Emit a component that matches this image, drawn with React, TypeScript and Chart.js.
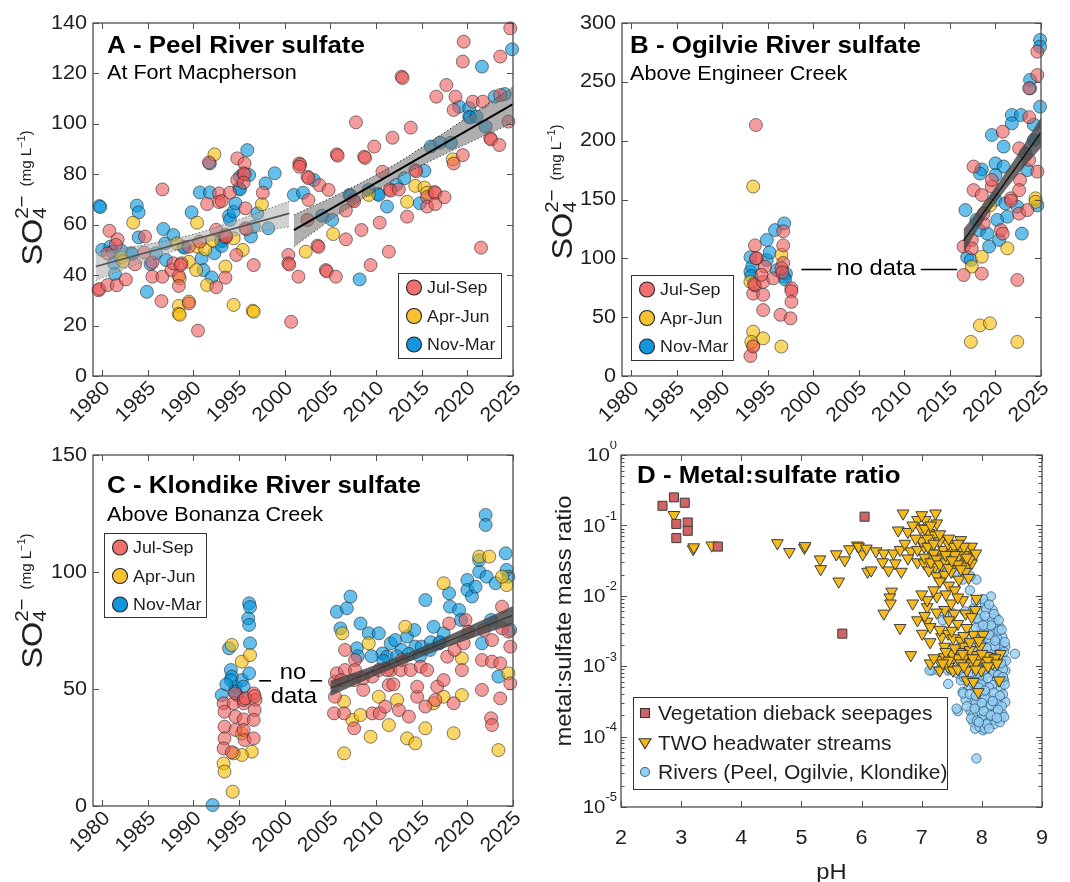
import React, { useEffect, useRef } from 'react';
import { Chart, registerables } from 'chart.js';

Chart.register(...registerables);

type Pair = [number, number];

const FONT = '"Liberation Sans", Arial, Helvetica, sans-serif';
const INK = '#1f1f1f';
const AXIS = '#4d4d4d';
const SX = 1.08;

// ---------- axes / labels ----------
const yearTicks = [1980, 1985, 1990, 1995, 2000, 2005, 2010, 2015, 2020, 2025];
const peelTicks = [0, 20, 40, 60, 80, 100, 120, 140];
const ogilvieTicks = [0, 50, 100, 150, 200, 250, 300];
const klondikeTicks = [0, 50, 100, 150];
const phTicks = [2, 3, 4, 5, 6, 7, 8, 9];
const ratioTicks = [1, 1e-1, 1e-2, 1e-3, 1e-4, 1e-5];
const ratioTickExponents = ['0', '-1', '-2', '-3', '-4', '-5'];

const seasonLabels = ['Jul-Sep', 'Apr-Jun', 'Nov-Mar'];
const groupLabels = ['Vegetation dieback seepages', 'TWO headwater streams', 'Rivers (Peel, Ogilvie, Klondike)'];

// ---------- A: Peel River (year, SO4 mg/L) ----------
const peelJulSep: Pair[] = [
  [1979.6, 34], [1979.7, 34.5], [1980.6, 36.1], [1980.8, 57.6], [1981.6, 36], [1981.7, 54.2], [1981.5, 52], [1982.6, 38.3],
  [1983.6, 44.3], [1980.6, 48.6], [1984.7, 55.3], [1984.6, 49], [1985.5, 45], [1985.5, 39.4], [1986.6, 74], [1986.6, 39.4],
  [1986.5, 29.7], [1987.6, 42], [1987.8, 44.7], [1988.4, 39.7], [1988.4, 35.7], [1988.7, 44.7], [1988.6, 44], [1989.5, 28.8],
  [1989.5, 51.3], [1990.5, 18], [1990.7, 53.3], [1991.5, 68.2], [1991.7, 84.7], [1992.5, 35.2], [1992.8, 72.4], [1992.8, 69],
  [1992.5, 58], [1993.5, 39], [1993.5, 56], [1993.5, 55], [1993.6, 55.4], [1993.1, 69.4], [1994, 72.7], [1994.7, 48],
  [1994.8, 86.3], [1994.8, 77.7], [1995.6, 84.3], [1995.5, 80.4], [1995.6, 80], [1995.5, 76.7], [1995.7, 66.5], [1996.6, 44],
  [1995.7, 58.6], [1995.8, 58.2], [1997.6, 72.7], [2000.4, 48], [2000.4, 44.7], [2000.5, 44.2], [2000.7, 21.5], [2001.6, 84.3],
  [2001.7, 83.8], [2001.6, 83], [2001.5, 39.4], [2002.5, 79], [2002.6, 78.5], [2002.6, 69.8], [2002.5, 61.9], [2003.6, 51.7],
  [2003.7, 51.2], [2003.8, 75.7], [2004.8, 73.8], [2004.5, 42], [2004.6, 41.5], [2005.6, 39.4], [2005.7, 87.9], [2005.8, 87.4],
  [2006.7, 54.2], [2006.7, 65.6], [2007.5, 69.8], [2007.6, 69.3], [2007.8, 100.6], [2008.4, 57.9], [2008.7, 87], [2008.8, 86.5],
  [2009.4, 44], [2009.8, 91], [2010.4, 60.8], [2010.7, 81], [2011.4, 49.3], [2011.8, 94.5], [2011.5, 74], [2011.6, 73.5],
  [2012.5, 74], [2012.8, 118.7], [2012.9, 118.2], [2013.4, 63.2], [2013.8, 98.5], [2014.3, 81.7], [2014.4, 81.2], [2015.6, 71],
  [2015.6, 67.2], [2016.4, 73], [2016.5, 72.5], [2016.5, 68.2], [2016.6, 110.8], [2017.5, 70.9], [2017.7, 115.4], [2018.5, 105.5],
  [2018.7, 110.8], [2018.5, 84.3], [2019.5, 87.6], [2019.5, 124.7], [2019.6, 132.6], [2020.6, 108.8], [2021.5, 50.9], [2021.7, 108.8],
  [2022.5, 94.3], [2022.6, 93.8], [2023.5, 91.6], [2023.6, 126.7], [2023.6, 111.4], [2024.5, 100.9], [2024.7, 137.9],
];
const peelAprJun: Pair[] = [
  [1982.1, 47], [1982.3, 45.5], [1983.4, 60.8], [1988.2, 52.6], [1988.5, 38.7], [1988.4, 27.8], [1988.4, 24.7], [1988.5, 24.3],
  [1989.5, 45.3], [1989.5, 29.5], [1990.4, 60.8], [1990.4, 51.3], [1990.3, 42], [1991.3, 50.2], [1991.5, 36.1], [1992.3, 87.9],
  [1992.1, 53.7], [1993.5, 43.4], [1994.4, 28.2], [1994.4, 54.6], [1995.4, 50], [1996.5, 25.9], [1996.6, 25.5], [1997.5, 68.1],
  [2005.3, 56.3], [2002.3, 49.3], [2009.2, 71.8], [2013.4, 69.1], [2014.3, 75.4], [2015.3, 74.7], [2015.6, 72.7], [2018.4, 85.9],
];
const peelNovMar: Pair[] = [
  [1979.7, 67.4], [1979.8, 67], [1980, 50], [1980.9, 51.3], [1981.1, 49.3], [1981.3, 44.7], [1981.4, 40.5], [1982.1, 49.7],
  [1983.2, 48.7], [1983.3, 48.3], [1983.8, 67.6], [1984, 64.9], [1984, 55], [1984.9, 33.4], [1985.3, 44.4], [1985.9, 48.7],
  [1986.7, 58.3], [1986.9, 52.6], [1987.8, 55.9], [1987, 46], [1988.9, 51.3], [1989, 50.9], [1989.8, 64.9], [1990.7, 72.8],
  [1990.9, 46.7], [1991.1, 42], [1991.8, 72.8], [1991.8, 84.3], [1992, 39.1], [1992.3, 48.7], [1993, 53.9], [1993.1, 53.4],
  [1993.1, 51.6], [1993.9, 63.5], [1994, 61.9], [1994.4, 65.2], [1994.6, 68.5], [1995, 74.4], [1995.1, 74], [1995.1, 79.1],
  [1995.9, 89.6], [1996.1, 79.7], [1996.3, 55.3], [1996.6, 59.2], [1997, 64.5], [1997.9, 76.4], [1998.2, 58.6], [1998.9, 80.4],
  [2001, 71.8], [2002, 72.7], [2003.2, 77.7], [2004.1, 63.6], [2005.2, 61.9], [2007.1, 71.8], [2007.2, 71.4], [2008.2, 38.3],
  [2009.2, 73.8], [2010.2, 72.2], [2010.3, 71.8], [2011.2, 67.2], [2012.2, 75.8], [2013.1, 78.4], [2014.8, 68.5], [2015.3, 81.4],
  [2016, 91], [2017, 92.5], [2018.2, 92.5], [2019.1, 106.8], [2020.2, 106.2], [2020.2, 102.9], [2020.3, 102.5], [2021, 102.9],
  [2021.6, 122.7], [2022, 98.9], [2023, 110.8], [2024.1, 111.8], [2024.9, 129.6],
];
const peelFitEarlyYears = [1979.3, 1984, 1990, 1995, 2000.5];
const peelFitEarlyUpper = [48.9, 51.6, 56.2, 62.1, 69.3];
const peelFitEarlyLower = [37.9, 44.6, 51.9, 55.9, 59.2];
const peelFitEarlyLine: Pair[] = [[1979.3, 43.4], [2000.5, 64.5]];
const peelFitLateYears = [2001, 2006, 2012, 2018, 2025];
const peelFitLateUpper = [63.9, 72.3, 83.8, 97.8, 114.6];
const peelFitLateLower = [51.3, 64.3, 77.8, 88.8, 100.5];
const peelFitLateLine: Pair[] = [[2001, 57.9], [2025, 107.8]];

// ---------- B: Ogilvie River ----------
const ogilvieJulSep: Pair[] = [
  [1993.7, 213.3], [1993.1, 17], [1993.4, 25], [1993.4, 70], [1993.6, 77], [1993.8, 100], [1993.5, 78], [1994.5, 69],
  [1994.5, 56], [1994.7, 93], [1994.5, 80], [1995.6, 83], [1996.4, 52], [1996.7, 111], [1996.7, 123], [1996.7, 96],
  [1996.5, 91.5], [1997.6, 74.5], [1997.6, 72], [1997.6, 63], [1997.5, 49], [1993.6, 111], [1993.7, 100], [1996.6, 88], [1994.3, 86],
  [2016.5, 85.8], [2016.5, 110], [2017.4, 115.6], [2017.4, 108.5], [2017.6, 158], [2017.6, 178], [2018.5, 153.8], [2018.5, 87],
  [2018.7, 129.7], [2018.7, 138], [2019.6, 161], [2019.6, 166.6], [2020.6, 124], [2020.8, 207.6], [2021.7, 151], [2021.7, 149],
  [2022.4, 81.6], [2022.6, 193.5], [2022.7, 166.6], [2022.6, 158], [2022.6, 138], [2023.5, 141], [2023.7, 183.6], [2023.7, 220],
  [2023.7, 244.5], [2024.6, 173.7], [2024.6, 255.8], [2024.6, 275.6], [2020.8, 121],
];
const ogilvieAprJun: Pair[] = [
  [1993.4, 161], [1993.4, 37.7], [1993.4, 26], [1993.2, 29], [1994.5, 32], [1996.5, 25], [1993.1, 80], [1996.5, 103],
  [2017.3, 29], [2018.3, 43], [2019.4, 44.8], [2022.4, 29], [2017.4, 93], [2018.5, 101.4], [2019.4, 145], [2021.3, 108.5],
  [2024.4, 151], [2024.4, 148],
];
const ogilvieNovMar: Pair[] = [
  [1993.1, 88.7], [1993.1, 101], [1993.3, 93], [1994.9, 115.6], [1994.9, 98.6], [1995.8, 124], [1996.8, 129.7], [1996.8, 84.4],
  [1996, 90], [1997, 87], [1993.2, 85], [1996.9, 82], [1995.2, 105],
  [2016.7, 141], [2016.9, 101], [2017.3, 98.6], [2017.9, 132.6], [2018.2, 124], [2019.1, 121], [2019.3, 110], [2018.5, 175.6],
  [2019.6, 204.8], [2020, 180.7], [2020, 149.6], [2020.2, 132.6], [2020.4, 115.6], [2020.9, 178], [2020.9, 195], [2021.1, 146.7],
  [2021.3, 135.4], [2021.8, 221.8], [2021.8, 214.7], [2022.8, 221.8], [2022.4, 143.9], [2022.9, 121], [2023.3, 189.2], [2023.5, 175],
  [2023.8, 251.6], [2023.8, 244.5], [2024.2, 200.6], [2024.9, 285.6], [2024.9, 279.9], [2024.9, 228.9], [2024.2, 213.6], [2020, 170.8],
  [2018.3, 172], [2024.6, 145],
];
const ogilvieFitYears = [2016.5, 2019, 2022, 2025];
const ogilvieFitUpper = [125, 150, 183, 220];
const ogilvieFitLower = [105, 136, 167, 194];
const ogilvieFitLine: Pair[] = [[2016.5, 115], [2025, 207]];

// ---------- C: Klondike River ----------
const klondikeJulSep: Pair[] = [
  [1993.3, 43.9], [1993.4, 40.3], [1993.4, 33.9], [1993.4, 28.9], [1993.3, 24.6], [1994.4, 43.9], [1994.6, 48.1], [1994.6, 38.2],
  [1994.6, 32.5], [1995.5, 43.9], [1995.5, 37], [1995.5, 32.5], [1995.6, 28.2], [1996.6, 48.1], [1996.8, 45.3], [1996.7, 41],
  [1996.6, 36.8], [1996.6, 28.9], [1995.5, 45.3], [1995.7, 46], [1996.7, 47], [1994.2, 23],
  [2005.4, 39.6], [2005.5, 46.7], [2005.5, 53.1], [2005.7, 56.7], [2006.5, 39.6], [2006.6, 58.1], [2006.6, 66.7], [2007.6, 33.2],
  [2007.6, 53.8], [2007.7, 62.4], [2008.6, 49.6], [2008.6, 54.6], [2009.6, 39.6], [2009.6, 55.3], [2010.3, 58.1], [2010.4, 39.6],
  [2011, 42.5], [2011.4, 51.7], [2011.6, 58.1], [2012.5, 41], [2012.7, 58.1], [2012.8, 62.4], [2013.6, 38.2], [2013.8, 58.1],
  [2014.5, 46.7], [2014.5, 51], [2014.9, 59.5], [2015.4, 42.5], [2015.6, 58.1], [2016.5, 45.3], [2016.7, 51], [2017.4, 53.8],
  [2017.8, 63.8], [2018, 78], [2018.5, 43.9], [2018.6, 66.7], [2019.4, 58.1], [2019.6, 69.5], [2019.8, 79.5], [2020.1, 74.5],
  [2021.6, 49.6], [2021.6, 62.4], [2021.8, 75.2], [2022.6, 37.5], [2022.7, 34.6], [2022.7, 61.7], [2022.7, 70.9], [2023.6, 46],
  [2023.6, 61], [2023.8, 85.2], [2023.8, 75.9], [2024.5, 74.5], [2024.7, 68.1], [2024.7, 52.4], [2006.2, 53.8], [2007.7, 58.1],
  [2011.2, 58.1], [2011.9, 52],
];
const klondikeAprJun: Pair[] = [
  [1993.3, 18.2], [1993.4, 14.7], [1994.2, 68.8], [1994.3, 6.1], [1995.3, 61.7], [1996.2, 64.5], [1996.4, 23.2], [1995.3, 21.8],
  [1994.4, 22.5], [1995.3, 31],
  [2006.3, 73.8], [2006.5, 44.6], [2006.5, 22.5], [2007.4, 36.8], [2008.3, 38.9], [2009.2, 69.5], [2009.4, 29.6], [2010.3, 46.7],
  [2011.4, 34.6], [2012.3, 45.3], [2013.2, 76.6], [2013.4, 28.9], [2014.3, 26.8], [2015.4, 33.2], [2016.3, 43.9], [2017.4, 46.7],
  [2017.4, 95.2], [2018.5, 31.1], [2019.4, 47.4], [2019.4, 63.1], [2021.3, 106.6], [2022.4, 106.6], [2023.4, 23.9], [2024.3, 94.4],
  [2024.5, 56.7], [2023.8, 98],
];
const klondikeNovMar: Pair[] = [
  [1992.1, 0.4], [1993.1, 47.4], [1993.9, 67.4], [1994.1, 58.1], [1994.2, 55.3], [1994.6, 51], [1994.8, 47.4], [1995.3, 53.8],
  [1996.1, 56.7], [1996.1, 86.6], [1996.2, 85], [1996, 80.2], [1996.1, 77.4], [1996.2, 69.5], [1994.1, 53.8], [1994.5, 48.9],
  [1995.5, 51], [1993.6, 52],
  [2005.7, 83], [2006.1, 75.9], [2006.8, 84.5], [2007.2, 89.5], [2007.9, 67.4], [2008.3, 78], [2009.2, 73.8], [2010.3, 73.8],
  [2010.7, 65.2], [2011.2, 63.8], [2011.6, 69.5], [2012.1, 70.9], [2012.8, 66.7], [2013.4, 72.4], [2014.2, 75.2], [2014.3, 68.1],
  [2015, 68.1], [2015.4, 88], [2015.9, 66.7], [2016.3, 76.6], [2016.9, 69.5], [2017.4, 73.8], [2018, 90.9], [2018.1, 85.2],
  [2019.1, 83.8], [2019.3, 79.5], [2020, 96.6], [2020, 92.3], [2020.5, 89.5], [2020.9, 93.7], [2021.3, 100.1], [2021.3, 105.1],
  [2022, 124.4], [2022, 120.1], [2022.1, 98], [2022.6, 79.5], [2023.1, 95.2], [2023.4, 55.3], [2024.2, 108], [2024.3, 100.9],
  [2024.5, 98], [2024.7, 75.2], [2021.6, 69.5], [2008, 64], [2009.5, 64], [2010.8, 62], [2012.3, 64], [2013.6, 65],
  [2014.8, 64], [2016, 70], [2017, 70],
];
const klondikeFitYears = [2005, 2010, 2015, 2020, 2025];
const klondikeFitUpper = [53.5, 60.4, 68.0, 76.5, 85.5];
const klondikeFitLower = [47, 55.8, 63.8, 71.1, 77.7];
const klondikeFitLine: Pair[] = [[2005, 50.3], [2025, 81.6]];

// ---------- D: metal:sulfate ratio (pH, ratio) ----------
const diebackSeepages: Pair[] = [
  [2.69, 0.19], [2.88, 0.25], [3.06, 0.21], [2.92, 0.105], [3.11, 0.11], [3.11, 0.084], [2.92, 0.066], [3.61, 0.05],
  [6.05, 0.133], [5.68, 0.0029],
];
const headwaterStreams: Pair[] = [
  [2.88, 0.141], [3.2, 0.046], [3.21, 0.049], [3.51, 0.052], [4.6, 0.056], [4.8, 0.042], [5.05, 0.048], [5.06, 0.051],
  [5.31, 0.033], [5.32, 0.024], [5.62, 0.016], [5.58, 0.039], [5.72, 0.032], [5.8, 0.046], [5.93, 0.052], [6.02, 0.039], [6.1, 0.022],
  [6.69, 0.148], [6.93, 0.12], [7.06, 0.12], [7.23, 0.148], [7.25, 0.107], [6.98, 0.091], [6.61, 0.085], [6.77, 0.081],
  [7.12, 0.078], [7.22, 0.073],
  [5.95, 0.05], [6.08, 0.047], [6.24, 0.043], [6.37, 0.04], [6.53, 0.04], [6.64, 0.045], [6.72, 0.055], [6.82, 0.043],
  [6.93, 0.045], [7.04, 0.05], [7.14, 0.045], [7.25, 0.04], [7.36, 0.045], [7.44, 0.055], [7.54, 0.05], [7.65, 0.062],
  [7.68, 0.045], [7.78, 0.045], [7.83, 0.05],
  [6.16, 0.023], [6.35, 0.03], [6.45, 0.023], [6.56, 0.029], [6.66, 0.022], [6.77, 0.034], [6.93, 0.03], [7.04, 0.029],
  [7.14, 0.034], [7.22, 0.026], [7.33, 0.027], [7.44, 0.032], [7.54, 0.027], [7.68, 0.03], [7.75, 0.026], [7.83, 0.029],
  [7.12, 0.023], [7.25, 0.019], [7.38, 0.02], [7.49, 0.022], [7.62, 0.017], [7.73, 0.022], [7.78, 0.018],
  [6.37, 0.0056], [6.5, 0.0115], [6.47, 0.0095], [6.48, 0.0078], [6.85, 0.0078], [7.09, 0.0069], [7.09, 0.0087], [7.25, 0.0098],
  [7.38, 0.0063], [7.49, 0.0078], [7.54, 0.0056], [7.68, 0.0087], [7.73, 0.0056], [7.91, 0.0091], [7.89, 0.0063], [7.83, 0.005],
  [6.64, 0.0035], [6.93, 0.0045], [7.09, 0.0043], [7.14, 0.0036], [7.01, 0.0029], [7.14, 0.0022], [7.33, 0.0026], [7.38, 0.0019],
  [7.44, 0.0029], [7.52, 0.0025], [7.65, 0.0023], [7.7, 0.0019], [7.86, 0.0028], [8.02, 0.0028], [7.97, 0.0019],
  [6.82, 0.00144], [7.14, 0.0011], [7.28, 0.00123], [7.38, 0.00135], [7.44, 0.00098], [7.54, 0.00135], [7.62, 0.0016],
  [7.7, 0.00123], [7.81, 0.00144], [7.83, 0.0011], [7.91, 0.00144], [8.02, 0.00123], [8.13, 0.00135], [8.18, 0.0011], [8.31, 0.0015],
  [7.75, 0.00087], [7.99, 0.00087], [7.52, 0.00087], [7.3, 0.00087], [7.75, 0.00063], [7.94, 0.00043], [8.29, 0.00063], [7.86, 0.0006],
  [7.0, 0.06], [7.1, 0.065], [7.3, 0.06], [7.35, 0.035], [7.5, 0.04], [7.6, 0.035], [7.2, 0.04], [7.7, 0.038], [7.8, 0.033],
  [7.9, 0.04], [7.6, 0.0013], [7.72, 0.0014], [7.95, 0.0013], [8.08, 0.0014], [8.22, 0.0013], [7.8, 0.0017], [7.5, 0.0015],
  [7.65, 0.0011], [7.9, 0.0011],
  [7.05, 0.035], [7.15, 0.03], [7.25, 0.033], [7.3, 0.028], [7.4, 0.03], [7.45, 0.025], [7.55, 0.038], [7.6, 0.028],
  [7.65, 0.024], [7.75, 0.035], [7.1, 0.05], [7.2, 0.055], [7.4, 0.038], [7.5, 0.032], [7.7, 0.05], [6.9, 0.065],
  [7.05, 0.09], [7.15, 0.1], [7.0, 0.14], [6.85, 0.1], [7.3, 0.075], [7.45, 0.065], [7.6, 0.055], [7.3, 0.016],
  [7.45, 0.014], [7.55, 0.012], [7.2, 0.012], [7.4, 0.0105], [7.6, 0.0095], [7.0, 0.0105], [7.25, 0.0058], [7.45, 0.0045],
  [7.6, 0.004], [7.75, 0.0035], [7.05, 0.0052], [7.3, 0.0033], [7.5, 0.0032], [7.7, 0.0027], [7.8, 0.0022], [7.95, 0.0023],
  [7.4, 0.0016], [7.55, 0.0018], [7.68, 0.0015], [7.85, 0.0013], [8.0, 0.0015], [8.1, 0.0012], [8.25, 0.0011], [7.6, 0.0009],
  [7.7, 0.001], [7.9, 0.0009], [8.1, 0.001], [7.45, 0.0012], [7.35, 0.0011], [7.2, 0.0013],
];
const riverSamples: Pair[] = [
  [7.54, 0.021], [7.68, 0.017], [7.91, 0.017], [7.81, 0.019], [8.15, 0.0098], [8.05, 0.0078], [8.18, 0.0063], [7.97, 0.0056],
  [7.86, 0.0066], [8.23, 0.005], [8.07, 0.0043], [8.29, 0.0036], [7.99, 0.0032], [8.18, 0.0029], [8.34, 0.0026], [7.94, 0.0026],
  [8.1, 0.0022], [8.26, 0.0021], [8.39, 0.0019], [8.02, 0.0017], [8.18, 0.0015], [8.34, 0.00135], [7.97, 0.00135], [8.13, 0.0011],
  [8.29, 0.00098], [8.39, 0.00087], [7.94, 0.00098], [8.07, 0.00079], [8.23, 0.00071], [8.37, 0.00063], [8.02, 0.0006], [8.18, 0.00054],
  [8.31, 0.00048], [7.89, 0.00048], [7.97, 0.00041], [8.13, 0.00036], [8.26, 0.00033], [8.39, 0.00031], [7.83, 0.00033], [7.97, 0.00028],
  [8.1, 0.00025], [8.23, 0.00022], [8.34, 0.00021], [7.94, 0.00021], [8.07, 0.00019], [8.21, 0.00017], [8.31, 0.00018], [7.86, 0.00016],
  [7.97, 0.000138], [8.02, 0.000123], [7.89, 0.000129], [7.73, 0.00033], [7.68, 0.00043], [7.78, 0.00054], [7.65, 0.00063], [7.6, 0.00079],
  [7.7, 0.00079], [7.44, 0.00087], [7.28, 0.00087], [7.17, 0.00087], [7.38, 0.0056], [7.6, 0.00023], [7.81, 0.00023], [8.55, 0.0015],
  [7.91, 0.000049], [7.35, 0.021], [7.35, 0.0045], [7.52, 0.0056], [7.44, 0.00056], [7.58, 0.00025], [7.69, 0.00041], [7.96, 0.000138],
  [8.05, 0.00013], [7.13, 0.00087],
  [8.0, 0.003], [8.1, 0.0035], [8.2, 0.004], [8.25, 0.0025], [8.3, 0.0018], [8.15, 0.0012], [8.05, 0.0009], [7.95, 0.0007],
  [8.2, 0.0008], [8.3, 0.0006], [8.35, 0.0004], [8.25, 0.0003], [8.15, 0.00028], [8.05, 0.00035], [7.9, 0.0003], [7.85, 0.0002],
  [8.0, 0.00018], [8.1, 0.00016], [8.2, 0.00015], [8.3, 0.00016], [7.8, 0.0011], [7.75, 0.0014], [7.9, 0.0016], [8.0, 0.0022],
  [8.1, 0.0025], [8.28, 0.0032], [8.35, 0.0009], [8.4, 0.0012], [8.38, 0.00055], [8.12, 0.0005], [7.98, 0.00055], [7.88, 0.0009],
  [8.08, 0.0014], [8.22, 0.0019], [8.17, 0.0047], [8.07, 0.0065], [7.95, 0.0042], [7.6, 0.0012], [7.7, 0.0007], [7.5, 0.0009],
  [8.02, 0.009], [8.12, 0.0075], [8.2, 0.0055], [8.28, 0.0045], [7.92, 0.0048], [8.05, 0.0052], [8.15, 0.0038], [8.33, 0.0033],
  [7.9, 0.0035], [8.02, 0.0038], [8.12, 0.0028], [8.22, 0.0023], [8.38, 0.0022], [7.88, 0.0022], [8.08, 0.0018], [8.28, 0.0015],
  [8.37, 0.0016], [7.85, 0.0013], [7.95, 0.0012], [8.05, 0.0011], [8.22, 0.001], [8.32, 0.0011], [7.82, 0.0008], [7.92, 0.0008],
  [8.1, 0.00068], [8.27, 0.00075], [8.35, 0.0007], [7.85, 0.00058], [7.95, 0.0005], [8.05, 0.00045], [8.2, 0.00042], [8.3, 0.00038],
  [7.8, 0.0004], [7.9, 0.00038], [8.0, 0.0003], [8.18, 0.00032], [8.33, 0.00027], [7.75, 0.00027], [7.88, 0.00025], [8.03, 0.00023],
  [8.15, 0.0002], [8.27, 0.00024], [8.37, 0.00019], [7.82, 0.00018], [7.92, 0.00017], [8.08, 0.00015], [8.25, 0.000185], [7.95, 0.00016],
  [8.12, 0.00013], [7.7, 0.0015], [7.65, 0.002], [7.78, 0.0025], [7.72, 0.006], [7.8, 0.012], [7.9, 0.0085],
];

// ---------- styles ----------
const seasonFill = ['rgba(236,84,84,0.58)', 'rgba(246,186,0,0.6)', 'rgba(0,148,222,0.6)'];
const seasonEdge = 'rgba(30,30,30,0.55)';
const seasonLegendFill = ['rgb(240,112,112)', 'rgb(246,194,50)', 'rgb(20,150,220)'];
const groupFill = ['rgb(208,100,100)', 'rgba(246,184,16,0.95)', 'rgba(150,206,242,0.8)'];
const groupEdge = ['#3a3a3a', '#3c3c3c', 'rgba(45,90,125,0.75)'];

const toXY = (p: Pair[]) => p.map(([x, y]) => ({ x, y }));

// ---------- drawing helpers ----------
function txt(ctx: CanvasRenderingContext2D, s: string, x: number, y: number, size: number, o: any = {}) {
  ctx.save();
  ctx.translate(x, y);
  if (o.rot) ctx.rotate(o.rot);
  ctx.scale(o.sx ?? SX, 1);
  ctx.font = `${o.bold ? 'bold ' : ''}${size}px ${FONT}`;
  ctx.textAlign = o.align ?? 'left';
  ctx.textBaseline = o.baseline ?? 'alphabetic';
  ctx.fillStyle = o.color ?? INK;
  ctx.fillText(s, 0, 0);
  ctx.restore();
}
function textW(ctx: CanvasRenderingContext2D, s: string, size: number, bold = false, sx = SX) {
  ctx.save();
  ctx.font = `${bold ? 'bold ' : ''}${size}px ${FONT}`;
  const w = ctx.measureText(s).width * sx;
  ctx.restore();
  return w;
}
function drawSO4Label(ctx: CanvasRenderingContext2D, bx: number, cy: number) {
  const big = 30, mid = 19, small = 14, tiny = 10, gap = 9;
  const wSO = textW(ctx, 'SO', big);
  const wStack = Math.max(textW(ctx, '4', mid), textW(ctx, '2\u2212', mid));
  const wA = textW(ctx, '(mg L', small), wE = textW(ctx, '\u22121', tiny), wC = textW(ctx, ')', small);
  const total = wSO + wStack + gap + wA + wE + wC;
  ctx.save();
  ctx.translate(bx, cy);
  ctx.rotate(-Math.PI / 2);
  let x = -total / 2;
  txt(ctx, 'SO', x, 0, big); x += wSO;
  txt(ctx, '4', x, 4, mid);
  txt(ctx, '2\u2212', x, -14, mid);
  x += wStack + gap;
  txt(ctx, '(mg L', x, -11, small); x += wA;
  txt(ctx, '\u22121', x, -17, tiny); x += wE;
  txt(ctx, ')', x, -11, small);
  ctx.restore();
}
function drawMarker(ctx: CanvasRenderingContext2D, shape: string, x: number, y: number, fill: string, edge: string, r: number) {
  ctx.save();
  ctx.fillStyle = fill;
  ctx.strokeStyle = edge;
  ctx.lineWidth = 1.1;
  ctx.beginPath();
  if (shape === 'circle') ctx.arc(x, y, r, 0, Math.PI * 2);
  else if (shape === 'square') ctx.rect(x - r, y - r, 2 * r, 2 * r);
  else { ctx.moveTo(x - r, y - r * 0.7); ctx.lineTo(x + r, y - r * 0.7); ctx.lineTo(x, y + r * 0.95); ctx.closePath(); }
  ctx.fill();
  ctx.stroke();
  ctx.restore();
}

function makeDecor(d: any) {
  return {
    id: 'decor',
    afterDraw(chart: any) {
      const ctx: CanvasRenderingContext2D = chart.ctx;
      const { left, right, top, bottom } = chart.chartArea;
      const xs = chart.scales.x, ys = chart.scales.y;
      ctx.save();
      if (d.notes) {
        ctx.strokeStyle = '#000';
        ctx.lineWidth = 1.6;
        for (const s of d.notes.lines) {
          ctx.beginPath();
          ctx.moveTo(xs.getPixelForValue(s[0]), ys.getPixelForValue(s[2]));
          ctx.lineTo(xs.getPixelForValue(s[1]), ys.getPixelForValue(s[2]));
          ctx.stroke();
        }
        for (const t of d.notes.texts) {
          txt(ctx, t[0], xs.getPixelForValue(t[1]), ys.getPixelForValue(t[2]), 22, { align: 'center', baseline: 'middle', color: '#000' });
        }
      }
      ctx.strokeStyle = AXIS;
      ctx.lineWidth = 1;
      ctx.beginPath();
      const TL = 6;
      for (const v of d.xTicks) {
        const p = Math.round(xs.getPixelForValue(v)) + 0.5;
        ctx.moveTo(p, bottom); ctx.lineTo(p, bottom - TL);
        ctx.moveTo(p, top); ctx.lineTo(p, top + TL);
      }
      for (const v of d.yTicks) {
        const p = Math.round(ys.getPixelForValue(v)) + 0.5;
        ctx.moveTo(left, p); ctx.lineTo(left + TL, p);
        ctx.moveTo(right, p); ctx.lineTo(right - TL, p);
      }
      if (d.logMinor) {
        for (let i = 1; i < d.yTicks.length; i++) {
          for (let k = 2; k <= 9; k++) {
            const p = Math.round(ys.getPixelForValue(d.yTicks[i] * k)) + 0.5;
            ctx.moveTo(left, p); ctx.lineTo(left + 3.5, p);
            ctx.moveTo(right, p); ctx.lineTo(right - 3.5, p);
          }
        }
      }
      ctx.stroke();
      ctx.lineWidth = 1.3;
      ctx.strokeRect(left, top, right - left, bottom - top);

      d.xTicks.forEach((v: number, i: number) => {
        const px = xs.getPixelForValue(v);
        if (d.rotateX) txt(ctx, d.xLabels[i], px + 5, bottom + 9, 20, { align: 'right', baseline: 'middle', rot: -Math.PI / 4 });
        else txt(ctx, d.xLabels[i], px, bottom + 31, 20, { align: 'center', baseline: 'middle' });
      });
      d.yTicks.forEach((v: number, i: number) => {
        const py = ys.getPixelForValue(v);
        if (d.expY) {
          const e = d.expY[i];
          const we = textW(ctx, e, 12);
          txt(ctx, '10', left - 4 - we, py + 1, 19, { align: 'right', baseline: 'middle' });
          txt(ctx, e, left - 4 - we, py - 9, 12, { baseline: 'middle' });
        } else {
          txt(ctx, d.yLabels[i], left - 6, py, 20, { align: 'right', baseline: 'middle' });
        }
      });

      txt(ctx, d.title, d.titleX, d.titleY, 24, { bold: true, color: '#000' });
      if (d.subtitle) txt(ctx, d.subtitle, d.titleX, d.subY, 20, { color: '#000' });

      if (d.so4) drawSO4Label(ctx, d.so4[0], d.so4[1]);
      if (d.yTitle) txt(ctx, d.yTitle, d.yTitlePos[0], d.yTitlePos[1], 22, { align: 'center', baseline: 'middle', rot: -Math.PI / 2 });
      if (d.xTitle) txt(ctx, d.xTitle, (left + right) / 2, d.xTitleY, 22, { align: 'center', baseline: 'middle' });

      const L = d.legend;
      ctx.fillStyle = '#fff';
      ctx.fillRect(L.x, L.y, L.w, L.h);
      ctx.strokeStyle = '#333';
      ctx.lineWidth = 1;
      ctx.strokeRect(L.x + 0.5, L.y + 0.5, L.w, L.h);
      L.labels.forEach((lab: string, i: number) => {
        const cy = L.y + L.rows[i];
        drawMarker(ctx, L.shapes[i], L.x + L.markerX, cy, L.fills[i], L.edges[i], L.r[i]);
        txt(ctx, lab, L.x + L.textX, cy + 1, L.size, { baseline: 'middle', sx: 1.05 });
      });
      ctx.restore();
    },
  };
}

function seasonDatasets(series: Pair[][]) {
  return series.map((s, i) => ({
    type: 'scatter',
    label: seasonLabels[i],
    data: toXY(s),
    order: i,
    pointRadius: 6.5,
    pointBorderWidth: 1,
    backgroundColor: seasonFill[i],
    borderColor: seasonEdge,
    pointBackgroundColor: seasonFill[i],
    pointBorderColor: seasonEdge,
    clip: false,
  }));
}
function bandDatasets(years: number[], lower: number[], upper: number[], fit: Pair[], st: any) {
  return [
    {
      type: 'line', data: years.map((x, i) => ({ x, y: upper[i] })), showLine: true, pointRadius: 0,
      borderColor: st.edge, borderWidth: st.edgeW, borderDash: st.dash, backgroundColor: st.fill, fill: '+1',
      cubicInterpolationMode: 'monotone', order: -1,
    },
    {
      type: 'line', data: years.map((x, i) => ({ x, y: lower[i] })), showLine: true, pointRadius: 0,
      borderColor: st.edge, borderWidth: st.edgeW, borderDash: st.dash, fill: false,
      cubicInterpolationMode: 'monotone', order: -1,
    },
    {
      type: 'line', data: toXY(fit), showLine: true, pointRadius: 0, borderColor: st.line, borderWidth: st.lineW,
      fill: false, order: -2,
    },
  ];
}

function baseOptions(padding: any, x: any, y: any) {
  return {
    animation: false,
    responsive: false,
    maintainAspectRatio: false,
    events: [],
    layout: { padding },
    scales: { x: { ...x, display: false }, y: { ...y, display: false } },
    plugins: { legend: { display: false }, tooltip: { enabled: false } },
  };
}

const seasonLegend = (x: number, y: number, w: number, h: number) => ({
  x, y, w, h, labels: seasonLabels, rows: [14.5, 43, 71.5], markerX: 16, textX: 29, size: 17,
  shapes: ['circle', 'circle', 'circle'], fills: seasonLegendFill, edges: ['#222', '#222', '#222'], r: [7.5, 7.5, 7.5],
});

const yearAxis = { type: 'linear', min: 1979, max: 2025 };

function buildA() {
  return {
    type: 'scatter',
    data: {
      datasets: [
        ...seasonDatasets([peelJulSep, peelAprJun, peelNovMar]),
        ...bandDatasets(peelFitEarlyYears, peelFitEarlyLower, peelFitEarlyUpper, peelFitEarlyLine,
          { edge: 'rgba(90,90,90,0.85)', edgeW: 1, dash: [1.5, 2], fill: 'rgba(165,165,165,0.5)', line: '#555', lineW: 1.6 }),
        ...bandDatasets(peelFitLateYears, peelFitLateLower, peelFitLateUpper, peelFitLateLine,
          { edge: 'rgba(40,40,40,0.9)', edgeW: 1, dash: [1.5, 2], fill: 'rgba(110,110,110,0.55)', line: '#000', lineW: 2 }),
      ],
    },
    options: baseOptions({ left: 93, top: 23, right: 22, bottom: 65 }, yearAxis, { type: 'linear', min: 0, max: 140 }),
    plugins: [makeDecor({
      xTicks: yearTicks, xLabels: yearTicks.map(String), rotateX: true,
      yTicks: peelTicks, yLabels: peelTicks.map(String),
      title: 'A - Peel River sulfate', subtitle: 'At Fort Macpherson', titleX: 107, titleY: 53, subY: 79,
      so4: [42, 198],
      legend: seasonLegend(398, 273, 103, 85),
    })],
  };
}

function buildB() {
  return {
    type: 'scatter',
    data: {
      datasets: [
        ...seasonDatasets([ogilvieJulSep, ogilvieAprJun, ogilvieNovMar]),
        ...bandDatasets(ogilvieFitYears, ogilvieFitLower, ogilvieFitUpper, ogilvieFitLine,
          { edge: 'rgba(40,40,40,0.8)', edgeW: 0, dash: [], fill: 'rgba(70,70,70,0.8)', line: '#111', lineW: 1.5 }),
      ],
    },
    options: baseOptions({ left: 87, top: 23, right: 29, bottom: 65 }, yearAxis, { type: 'linear', min: 0, max: 300 }),
    plugins: [makeDecor({
      xTicks: yearTicks, xLabels: yearTicks.map(String), rotateX: true,
      yTicks: ogilvieTicks, yLabels: ogilvieTicks.map(String),
      title: 'B - Ogilvie River sulfate', subtitle: 'Above Engineer Creek', titleX: 95, titleY: 53, subY: 80,
      so4: [37, 192],
      legend: seasonLegend(96, 275, 102, 85),
      notes: {
        lines: [[1998.7, 2002, 90.5], [2011.8, 2015.8, 90.5]],
        texts: [['no data', 2006.9, 91]],
      },
    })],
  };
}

function buildC() {
  return {
    type: 'scatter',
    data: {
      datasets: [
        ...seasonDatasets([klondikeJulSep, klondikeAprJun, klondikeNovMar]),
        ...bandDatasets(klondikeFitYears, klondikeFitLower, klondikeFitUpper, klondikeFitLine,
          { edge: 'rgba(40,40,40,0.8)', edgeW: 0, dash: [], fill: 'rgba(70,70,70,0.82)', line: '#333', lineW: 1.2 }),
      ],
    },
    options: baseOptions({ left: 93, top: 14, right: 22, bottom: 76 }, yearAxis, { type: 'linear', min: 0, max: 150 }),
    plugins: [makeDecor({
      xTicks: yearTicks, xLabels: yearTicks.map(String), rotateX: true,
      yTicks: klondikeTicks, yLabels: klondikeTicks.map(String),
      title: 'C - Klondike River sulfate', subtitle: 'Above Bonanza Creek', titleX: 107, titleY: 52, subY: 80,
      so4: [42, 160],
      legend: seasonLegend(104, 92, 102, 84),
      notes: {
        lines: [[1997.2, 1998.5, 53.5], [2002.8, 2004.1, 53.5]],
        texts: [['no', 2000.9, 56.8], ['data', 2001, 46.8]],
      },
    })],
  };
}

function buildD() {
  const shapes = ['rect', 'triangle', 'circle'];
  const radii = [6.4, 6.8, 4.7];
  const sets = [diebackSeepages, headwaterStreams, riverSamples].map((s, i) => ({
    type: 'scatter',
    label: groupLabels[i],
    data: toXY(s),
    order: i,
    pointStyle: shapes[i],
    pointRotation: i === 1 ? 180 : 0,
    pointRadius: radii[i],
    pointBorderWidth: 1,
    backgroundColor: groupFill[i],
    borderColor: groupEdge[i],
    pointBackgroundColor: groupFill[i],
    pointBorderColor: groupEdge[i],
    clip: false,
  }));
  return {
    type: 'scatter',
    data: { datasets: sets },
    options: baseOptions({ left: 86, top: 14, right: 28, bottom: 75 }, { type: 'linear', min: 2, max: 9 },
      { type: 'logarithmic', min: 1e-5, max: 1 }),
    plugins: [makeDecor({
      xTicks: phTicks, xLabels: phTicks.map(String), rotateX: false,
      yTicks: ratioTicks, expY: ratioTickExponents, logMinor: true,
      title: 'D - Metal:sulfate ratio', titleX: 102, titleY: 42,
      yTitle: 'metal:sulfate mass ratio', yTitlePos: [30, 180],
      xTitle: 'pH', xTitleY: 432,
      legend: {
        x: 98, y: 256, w: 314, h: 92, labels: groupLabels, rows: [16, 46, 75], markerX: 12, textX: 25, size: 20,
        shapes: ['square', 'triangle', 'circle'], fills: ['rgb(208,100,100)', 'rgb(246,184,16)', 'rgb(150,206,242)'],
        edges: ['#333', '#333', 'rgba(45,90,125,0.9)'], r: [4.5, 6, 4.5],
      },
    })],
  };
}

function Panel({ left, top, build }: { left: number; top: number; build: () => any }) {
  const ref = useRef<HTMLCanvasElement | null>(null);
  useEffect(() => {
    const chart = new Chart(ref.current as HTMLCanvasElement, build());
    return () => chart.destroy();
  }, []);
  return (
    <canvas
      ref={ref}
      width={535}
      height={441}
      style={{ position: 'absolute', left, top, width: 535, height: 441 }}
    />
  );
}

export default function App() {
  return (
    <div style={{ position: 'absolute', left: 0, top: 0, width: 1070, height: 882, background: '#fff', overflow: 'hidden' }}>
      <Panel left={0} top={0} build={buildA} />
      <Panel left={535} top={0} build={buildB} />
      <Panel left={0} top={441} build={buildC} />
      <Panel left={535} top={441} build={buildD} />
    </div>
  );
}
